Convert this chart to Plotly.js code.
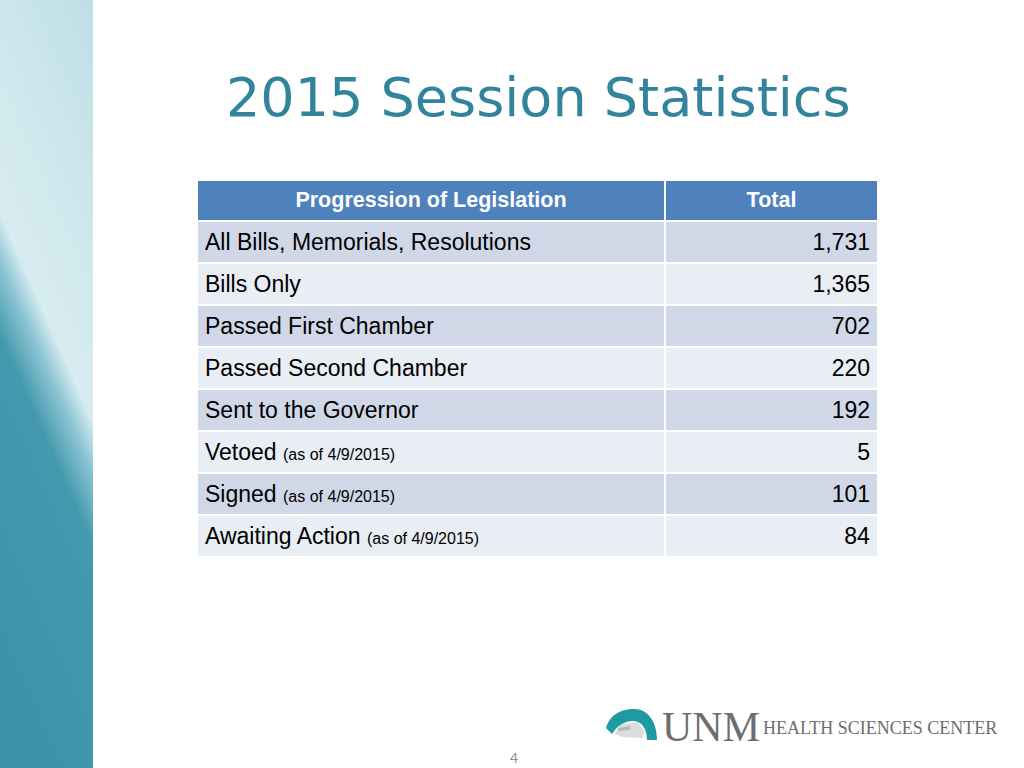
<!DOCTYPE html>
<html>
<head>
<meta charset="utf-8">
<script src="https://cdn.plot.ly/plotly-3.0.1.min.js"></script>
<style>html,body{margin:0;padding:0;background:#fff;}#chart{width:1024px;height:768px;}</style>
</head>
<body>
<div id="chart"></div>
<script>
const headers = ['Progression of Legislation', 'Total'];
const categories = ['All Bills, Memorials, Resolutions', 'Bills Only', 'Passed First Chamber', 'Passed Second Chamber', 'Sent to the Governor', 'Vetoed', 'Signed', 'Awaiting Action'];
const notes = ['', '', '', '', '', '(as of 4/9/2015)', '(as of 4/9/2015)', '(as of 4/9/2015)'];
const totals = [1731, 1365, 702, 220, 192, 5, 101, 84];
const titleText = '2015 Session Statistics';
const pageNumber = '4';

// a trailing <br> switches off Plotly's word-wrapping and gives every cell the same text placement
const headerCells = headers.map(h => '<b>' + h + '</b><br>');
const labelCells = categories.map((c, i) => (notes[i] ? c + ' <span style="font-size:16px">' + notes[i] + '</span>' : c) + '<br>');
const totalCells = totals.map(v => v.toLocaleString('en-US') + '<br>');
const rowColors = categories.map((c, i) => i % 2 === 0 ? '#D0D8E8' : '#E9EDF4');

const bandSvg = '<svg xmlns="http://www.w3.org/2000/svg" width="93" height="768" viewBox="0 0 93 768">' +
  '<defs><linearGradient id="g" gradientUnits="userSpaceOnUse" x1="-146" y1="450" x2="224.2" y2="286">' +
  '<stop offset="0" stop-color="#3A92A7"/><stop offset="0.444" stop-color="#4499AE"/>' +
  '<stop offset="0.519" stop-color="#8EC6D4"/><stop offset="0.568" stop-color="#D6ECF1"/>' +
  '<stop offset="0.691" stop-color="#D2E9EE"/><stop offset="1" stop-color="#BDDEE6"/></linearGradient></defs>' +
  '<rect width="93" height="768" fill="url(#g)"/></svg>';
const archSvg = '<svg xmlns="http://www.w3.org/2000/svg" width="60" height="42" viewBox="0 0 60 42">' +
  '<path d="M15,34 L20,24 L38,22 L44,30 L43,38 L22,37 Z" fill="#DADCDE"/>' +
  '<path d="M18,28 L30,26 L30,30 L18,31 Z" fill="#B8BBBE"/>' +
  '<path d="M6,28 C10,14 22,9 34,9 C48,9 57,22 57,40 L47,40 C47,29 42,21 33,21 C24,21 17,26 12,34 Z" fill="#1E9AA3"/></svg>';
const toUri = s => 'data:image/svg+xml;charset=utf-8,' + encodeURIComponent(s);

const data = [{
  type: 'table',
  domain: {x: [197 / 1024, 878 / 1024], y: [1 - 557 / 768, 1 - 180 / 768]},
  columnwidth: [468, 213],
  header: {
    values: headerCells,
    align: ['center', 'center'],
    height: 41,
    fill: {color: '#4F81BD'},
    line: {color: '#FFFFFF', width: 2},
    font: {family: 'Liberation Sans, Arial, sans-serif', size: 21.5, color: '#FFFFFF'}
  },
  cells: {
    values: [labelCells, totalCells],
    align: ['left', 'right'],
    height: 42,
    fill: {color: [rowColors, rowColors]},
    line: {color: '#FFFFFF', width: 2},
    font: {family: 'Liberation Sans, Arial, sans-serif', size: 23, color: '#000000'}
  }
}];

const layout = {
  width: 1024, height: 768,
  margin: {l: 0, r: 0, t: 0, b: 0},
  paper_bgcolor: '#FFFFFF',
  showlegend: false,
  images: [
    {source: toUri(bandSvg), xref: 'paper', yref: 'paper', x: 0, y: 1, sizex: 93 / 1024, sizey: 1, xanchor: 'left', yanchor: 'top', sizing: 'stretch', layer: 'below'},
    {source: toUri(archSvg), xref: 'paper', yref: 'paper', x: 600 / 1024, y: 1 - 700 / 768, sizex: 60 / 1024, sizey: 42 / 768, xanchor: 'left', yanchor: 'top', sizing: 'stretch', layer: 'above'}
  ],
  annotations: [
    {text: titleText, xref: 'paper', yref: 'paper', x: 538 / 1024, y: 1 - 98 / 768, xanchor: 'center', yanchor: 'middle', showarrow: false,
     font: {family: 'DejaVu Sans, Verdana, sans-serif', size: 54, color: '#31849B'}},
    {text: pageNumber, xref: 'paper', yref: 'paper', x: 514 / 1024, y: 1 - 757 / 768, xanchor: 'center', yanchor: 'middle', showarrow: false,
     font: {family: 'Lato, sans-serif', size: 14, color: '#8C8C8C'}},
    {text: 'UNM', xref: 'paper', yref: 'paper', x: 711 / 1024, y: 1 - 727 / 768, xanchor: 'center', yanchor: 'middle', showarrow: false,
     font: {family: 'Liberation Serif, serif', size: 42, color: '#6D6E70'}},
    {text: 'HEALTH SCIENCES CENTER', xref: 'paper', yref: 'paper', x: 879.5 / 1024, y: 1 - 728 / 768, xanchor: 'center', yanchor: 'middle', showarrow: false,
     font: {family: 'Liberation Serif, serif', size: 18, color: '#6D6E70'}}
  ]
};

Plotly.newPlot('chart', data, layout, {staticPlot: true, displayModeBar: false});
</script>
</body>
</html>
